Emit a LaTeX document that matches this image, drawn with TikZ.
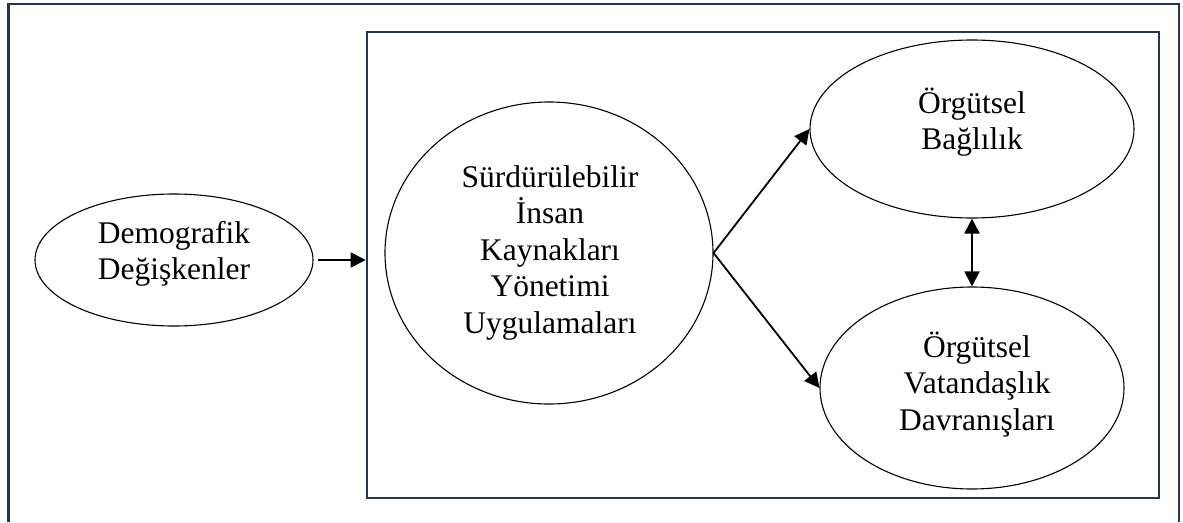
\documentclass[tikz,border=0pt]{standalone}
\usepackage{fontspec}
\setmainfont{Liberation Serif}
\usetikzlibrary{arrows.meta,shapes.geometric}
\definecolor{framenavy}{RGB}{34,54,80}
\tikzset{
	kutu/.style={line width=2.6pt, color=framenavy},
	oval/.style={draw, ellipse, line width=1.1pt, inner sep=0pt},
	yazi/.style={align=center, font=\fontsize{31.5}{36.5}\selectfont, inner sep=0pt},
	ok/.style={line width=1.8pt, -{Triangle[length=15pt,width=15pt]}},
	ciftok/.style={line width=1.8pt, {Triangle[length=15pt,width=15pt]}-{Triangle[length=15pt,width=15pt]}}
}

\begin{document}
\begin{tikzpicture}[x=1pt,y=-1pt]
		%%%%% START %%%%%
		\useasboundingbox (0,0) rectangle (1183,522);
		
		% outer frame, open at the bottom
		\draw[kutu] (8.5,522) -- (8.5,4) -- (1179,4) -- (1179,522);
		\node[draw=framenavy, line width=2.6pt, minimum width=792pt, minimum height=466pt, inner sep=0pt] (cerceve) at (763,265) {};
		
		\node[oval, minimum width=278pt, minimum height=132pt] (demog) at (174,260) {};
		\node[oval, minimum width=328pt, minimum height=302pt] (sihy) at (549,253) {};
		\node[oval, minimum width=324pt, minimum height=178pt] (bag) at (972,129) {};
		\node[oval, minimum width=304pt, minimum height=202pt] (ovd) at (972,388) {};
		
		\node[yazi] (demogyazi) at (174,254) {Demografik\\Değişkenler};
		\node[yazi] (sihyyazi) at (550,252.7) {Sürdürülebilir\\İnsan\\Kaynakları\\Yönetimi\\Uygulamaları};
		\node[yazi] (bagyazi) at (972,122) {Örgütsel\\Bağlılık};
		\node[yazi] (ovdyazi) at (977,384.5) {Örgütsel\\Vatandaşlık\\Davranışları};
		
		\draw[ok, shorten <=4pt] (demog.east) -- (demog.east -| cerceve.west);
		\draw[ok] (sihy.east) -- (bag.west);
		\draw[ok] (sihy.east) -- (ovd.west);
		\draw[ciftok] (bag.south) -- (ovd.north);
		
		%%%%% END %%%%%
\end{tikzpicture}
\end{document}
